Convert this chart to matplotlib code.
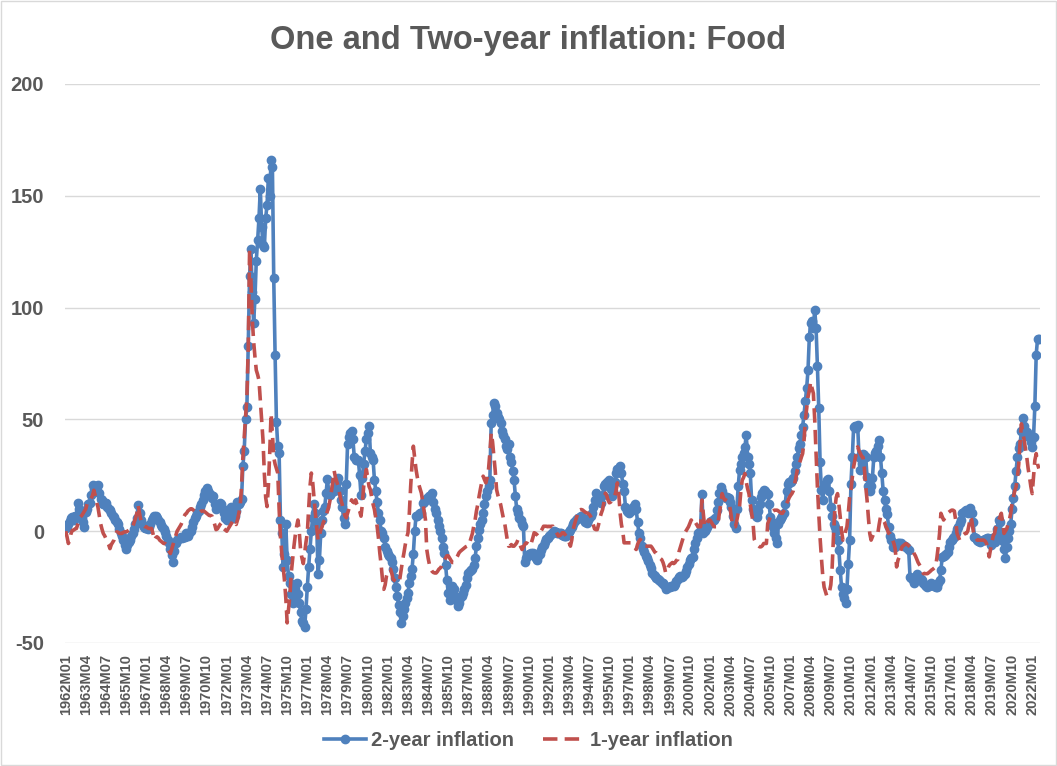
import numpy as np
import pandas as pd
import matplotlib.pyplot as plt
from matplotlib.lines import Line2D
from matplotlib.patches import Rectangle

plt.rcParams['font.family'] = ['Liberation Sans', 'DejaVu Sans']
plt.rcParams['axes.unicode_minus'] = False

# monthly categories 1962M01 .. 2022M06
months = pd.period_range("1962-01", "2022-06", freq="M")
month_labels = [f"{p.year}M{p.month:02d}" for p in months]

# 2-year food inflation (%), one row per year
two_year = [
    1.5, 2.5, 3.4, 4.5, 5.7, 6.5, 5, 7, 7, 12.4, 10, 9.4,
    6, 4, 2, 8.6, 10, 12, 12.4, 16, 20.6, 19, 20, 18,
    20.6, 17, 14.6, 14, 12, 12.4, 12.4, 11, 10, 9.4, 8, 7,
    6.4, 5, 4, 3.4, 1, -1, -2, -4, -6, -7.8, -6, -5,
    -4, -2, -1, 1, 3, 5.7, 11.6, 8, 4.9, 3, 2, 1.2,
    1.2, 1, 2, 3, 4.9, 6, 7, 7, 6, 4.9, 4, 2.7,
    2, 1, -0.3, -2, -4, -5.5, -8, -10.7, -14, -9, -5.5, -4,
    -3.3, -3, -2.5, -3, -2.5, -2.5, -1, -2, -1, 0, 2, 4,
    6, 7, 8, 9, 11, 12, 14, 16, 18, 19.4, 18, 17,
    16, 15, 15.7, 12, 10, 11, 12, 12.7, 12, 10, 8, 6,
    5, 7, 9, 11, 8, 6, 7, 9, 13, 12, 13, 14.6,
    29, 36, 50, 55.6, 83, 114, 126, 107, 93, 104, 121, 130,
    140, 153, 136, 128, 127, 140, 146, 158, 150, 166, 163, 113,
    79, 49, 38, 35, 5, -1, -16, -10, 3, -13, -20, -23,
    -28, -32, -30, -26, -23, -28, -32, -36, -40, -41, -43, -35,
    -25, -16, -8, 0, 6, 12, 8, 3, -19, -13, -1, 5,
    9, 11, 17, 23.5, 17, 16, 17, 18, 18, 20, 22, 24,
    18, 14, 11, 6, 3.4, 21, 39, 42, 44, 45, 41, 33,
    32, 32, 32, 25, 16, 24, 30, 36, 41, 44, 47, 35,
    33, 32, 23, 18, 13, 8, 5, 0, -1, -3, -7, -9,
    -10, -11, -12, -14, -17, -21, -25, -29, -33, -36, -41, -38,
    -35, -32, -30, -27.6, -23, -20, -17, -10, 0, 6.7, 7, 7.5,
    8, 8.2, 12.7, 13, 14, 15, 15, 15.7, 16, 17, 13, 10,
    8, 5, 2.2, 0, -3, -7, -9.7, -15, -22, -27.6, -31, -29,
    -24.6, -26, -29, -31, -33.6, -32, -30, -29, -27.6, -26, -24, -21,
    -18.7, -18, -17.5, -17, -15, -12, -6.7, -3, 0.7, 3, 5, 8.2,
    12, 15.7, 18, 20, 23, 48.5, 52, 57.5, 56, 53, 51, 50,
    48.5, 45, 43, 41, 38, 36.6, 39, 33, 31, 27, 23, 15.7,
    10, 8.2, 6, 5.2, 3, 2.2, -14, -12, -11, -10, -10, -9.7,
    -9.7, -11, -12, -12.7, -11, -10, -8.2, -7, -6, -5, -3.7, -3,
    -2, -1.5, -1, -0.7, 0, -0.5, -1, -0.7, -0.7, -1, -1.5, -2,
    -2.2, -2, -1, -0.5, 0.7, 2, 3, 4, 5.2, 5.5, 6, 6.5,
    6.7, 6, 5, 4, 3.7, 5, 6, 7, 8.2, 11, 14, 17,
    15, 14, 13, 12.7, 16, 20, 21, 22, 22, 23, 19, 15.7,
    18, 22, 26, 28, 27, 29, 26, 21, 18, 11, 9, 8.5,
    8.2, 9, 10, 11, 12, 10, 4, -0.7, -3, -6.7, -8, -9.5,
    -11, -12, -13.5, -15, -16.5, -18.7, -19.5, -20, -21, -21.6, -22, -22.5,
    -23, -23, -24, -26, -25.5, -25, -25, -24.6, -24.6, -24.6, -23.5, -22.5,
    -21.5, -20.4, -20, -20.4, -20, -19, -18, -16, -14.5, -13, -12, -11.5,
    -8, -5.2, -3, -1, -1, 2, 16.8, -1, 0, 1, 2, 3.4,
    4, 4.5, 5, 5, 6, 9.4, 13, 17, 19.8, 18, 16, 15.4,
    15, 15.4, 15, 13, 11, 7, 3, 1.2, 10, 20, 27.3, 30,
    33, 35, 37.7, 43, 33, 30, 25.8, 13.9, 10, 8, 7, 6.4,
    9, 12, 15.4, 17, 18.3, 18, 17, 16.8, 12, 6.4, 4, 2,
    -1, -3, -5.5, 3.4, 5, 6, 7, 8, 12, 18, 21.3, 22,
    22, 22.8, 24, 27, 30, 33, 37, 39, 43, 46.7, 52, 58,
    64, 72, 87, 93, 94, 91, 99, 91, 74, 55, 31, 18.3,
    13.9, 20, 21, 22.8, 23.5, 18, 10.9, 7, 3.4, 2, 0, -4,
    -8.5, -17.4, -25, -28, -30, -32, -26, -14.5, -4, 21.3, 33, 46.7,
    47, 46, 47.4, 33, 27.3, 30, 34.7, 34, 33, 24.3, 20, 18,
    20, 24, 33, 35, 36, 38, 40.7, 33, 25.8, 18, 13.9, 10,
    7.9, 2, -2, -4, -7, -7, -7, -6, -5.5, -5.5, -5.5, -6,
    -6, -6.5, -7, -7.5, -8.5, -20.4, -21, -22, -23.4, -21, -19, -20,
    -21, -21.5, -22, -23, -24, -24.5, -25, -24.5, -24, -23.4, -24, -24.5,
    -25, -25, -23, -22, -17.4, -11.5, -11, -10.5, -10, -9.2, -7, -5,
    -4, -3, -2.5, -1, 1, 2, 3.5, 5, 8, 8.5, 9, 9.4,
    8, 9.4, 10.5, 8, 4, -2.5, -3, -4, -4.5, -5, -4.5, -4,
    -4, -3.5, -3, -3, -4, -6, -3, -3, -5, -2, 1, 5,
    4, -1, -4.5, -8, -12, -7, -3, 0, 3, 10, 15, 20,
    27, 33, 37, 39, 45, 50.4, 47, 44, 44.4, 43, 42, 40,
    37.7, 42, 56, 79, 86, 86,
]

# 1-year food inflation (%), one row per year
one_year = [
    0, -2.5, -5.5, -4, -1, 0.4, 0.5, 1, 1.2, 3, 5, 6.4,
    7, 8, 9, 10, 12.4, 13, 14, 14.6, 16, 18.3, 16, 13,
    10.9, 7, 3.4, 1, -1, -2, -3.3, -5, -6, -7.8, -6, -5,
    -4, -2, -0.3, -0.5, -1, -1, -1, -0.5, -0.3, -0.3, 0, 0.4,
    0.4, 1, 2, 4, 5.7, 8, 11.6, 8, 4.9, 3.5, 2.5, 2,
    2, 1.5, 1.2, 1.2, 1.2, -1, -4, -3, -2.5, -3, -4, -4.5,
    -5, -5.5, -5.5, -6, -7.5, -9, -10, -8, -6, -4, -2, 0,
    1, 2, 3, 4.5, 6.4, 7.5, 8, 9, 9.5, 10, 10, 9.5,
    9, 8.5, 8, 8, 8.5, 9, 9, 9, 8.5, 8, 7.5, 7,
    7, 6.7, 5, 3, 0.7, 1, 2, 3, 3.7, 2.5, 1, 0.5,
    0, 1, 2, 3, 4, 5, 4, 3, 5, 8, 11, 20,
    33, 42, 51, 60, 82, 125.7, 112, 95, 85, 78, 72, 70,
    67.5, 58.6, 50, 40.7, 25.8, 15, 11, 20, 35, 52.6, 43.7, 33,
    30, 28, 26, 10, -2.5, -10, -16, -22, -30, -41, -35, -29,
    -19, -13, -7, -2, 2, 5, 0, -8.5, -12, -14.5, -10, -5,
    -1, 10, 20, 26, 22, 15, 8, 2, -4, -2, 0.5, 2,
    4, 5, 7, 9, 11, 14, 18, 22, 27, 24, 22, 20,
    17, 14, 12, 9, 7, 6, 8, 10, 12, 14, 13, 12.7,
    14, 12, 11, 9, 6.7, 12, 20, 24, 27.6, 24, 20, 18.6,
    15, 12, 9.7, 6, 2.2, -3, -9.7, -15, -21.6, -26, -24, -20,
    -18, -17, -17, -19, -21.6, -22, -22.5, -23, -23, -21, -17, -13,
    -9.7, -6, -3, -0.7, 8, 20, 30, 38, 33, 27.6, 24, 21,
    19, 17, 13, 9, 5.2, -8.2, -12, -15, -17, -18, -18.5, -18.7,
    -18.7, -18, -17, -16.5, -15.7, -14, -13, -12, -11, -11, -12, -13,
    -14, -14, -13, -12, -11, -9.7, -9, -8.5, -8, -7.5, -7, -6.7,
    -6.7, -5, -3, -1, 2.2, 5, 9, 12, 15.7, 19, 22, 24.6,
    23, 21.6, 24, 27.6, 35, 44, 40, 33.6, 27, 18.6, 16, 14,
    12, 9, 6, 3.7, 0, -4, -6.7, -6.7, -6, -6.7, -6.7, -6,
    -5.2, -3.7, -5, -7, -8.2, -7, -6, -5.2, -5.5, -6, -6.7, -5,
    -3, -0.7, -1, -1.5, -2.2, -1, 0, 1, 2.2, 2.2, 2.2, 2,
    2.2, 2, 2.2, 2.2, 1, 0, -1, -2.2, -2, -1.5, -0.7, -0.7,
    -1.5, -2.5, -3.7, -5, -6.7, -4, 0.7, 3, 5, 7, 9.7, 9.5,
    9.7, 9.5, 9, 8.5, 8.2, 8, 7.5, 6.7, 5, 3, 1, 0.7,
    0.7, 3, 6, 8, 9.7, 13, 17, 16, 14, 12.7, 13, 14,
    15, 15.7, 18, 21.6, 17, 8.2, 3, 0, -5.2, -5.2, -5.2, -5.2,
    -5.2, -5.2, -6, -7, -7.5, -8.2, -6, -4.5, -3.7, -4.5, -5.5, -6.7,
    -6.7, -6.7, -6.7, -6.7, -6.7, -7.5, -8.5, -9.5, -9.7, -10.5, -11.5, -12.2,
    -12.7, -14, -16, -18.7, -18, -16, -15, -14.5, -14, -14.5, -14, -13,
    -12.7, -9, -7, -5, -3, -1, 0, 1, 2, 3.5, 5, 4,
    5, 4, 3, 2, 2, 2, 13.9, 8, 2, 3, 4, 5,
    5, 4, 3, 2, 2, 2, 4, 8, 12, 16.8, 15, 14,
    13.9, 13.5, 12.4, 10, 6, 2, 2, 2, 5, 8, 11, 18,
    22.8, 24, 25.8, 22, 19, 16.8, 12, 8, 4, -3.7, -5, -6,
    -6.5, -7, -7, -6.5, -5.5, -5.5, -5.5, 3.4, 5, 6.5, 8, 9,
    9.4, 9.4, 9.4, 9, 8.5, 8, 8, 9, 10, 12.4, 13.5, 15,
    16, 16.8, 18, 21, 24, 27.3, 29, 31, 33, 34.7, 40, 49.6,
    55, 60, 63, 66.8, 64, 61.6, 50, 35, 20, 8, -3, -12,
    -20, -25, -27, -29, -28, -27, -24, -16, -2, 10, 15, 16.8,
    12, 6.4, 0, -4, -3, 0, 2, 8, 15, 18.3, 24, 28.8,
    32, 35, 37.7, 36, 34.7, 33.5, 33, 28, 20, 13.9, 6, -1,
    -4, -2.5, -1, -1, -1, -1, 3, 6.4, 6, 5, 4, 2,
    1, -1, -1, -2, -4, -5.5, -8, -16, -13, -11.5, -9, -7,
    -6.5, -6, -5.5, -6, -6.5, -7, -7.5, -8.5, -10, -11, -12.5, -14,
    -15, -16, -17.5, -19, -19, -19, -19, -18.5, -18, -17.4, -17, -16.5,
    -16, -12, -7, -1, 8, 6.5, 5, 6, 7, 8, 8.5, 9,
    9.4, 9.4, 9, 5, -1, -2.5, -4, -3.5, -2.5, -1.5, -1, -1,
    0, 3, 6.4, 5, 0.4, -2.5, -3, -4, -4, -4, -4, -4,
    -4, -4.5, -5.5, -8, -11.5, -8, -5, -2, -1, 2, 3.4, 5,
    6.4, 8, 4, -1, 0, 1, 3, 5, 8, 12.4, 15, 18,
    19.8, 24, 30, 40, 48, 44, 40.7, 37, 33, 28, 24.3, 20,
    16.8, 24.3, 31.7, 34.7, 30, 28,
]

blue = "#4F81BD"
red = "#C0504D"
grey = "#595959"

fig = plt.figure(figsize=(10.57, 7.66), dpi=100)
fig.patches.append(Rectangle((0.001, 0.001), 0.998, 0.998, transform=fig.transFigure,
                             fill=False, edgecolor="#d9d9d9", lw=1))
ax = fig.add_axes([0.0615, 0.1606, 0.922, 0.7298])

x = np.arange(len(months))
ax.plot(x, two_year, color=blue, lw=2.6, marker="o", ms=6, mec=blue, mfc=blue)
ax.plot(x, one_year, color=red, lw=2.6, dashes=(4, 2))

ax.set_xlim(-0.5, len(x) - 0.5)
ax.set_ylim(-50, 200)
ax.set_yticks(range(-50, 201, 50))
ax.set_xticks(x[::15])
ax.set_xticklabels(month_labels[::15], rotation=90)

for s in ax.spines.values():
    s.set_visible(False)
ax.yaxis.grid(True, color="#d9d9d9", lw=1)
ax.set_axisbelow(True)
ax.tick_params(length=0, colors=grey)
ax.tick_params(axis="y", pad=15, labelsize=14.5)
ax.tick_params(axis="x", pad=8, labelsize=10.5)
for lab in ax.get_xticklabels() + ax.get_yticklabels():
    lab.set_fontweight("bold")

fig.text(0.5, 1 - 40 / 766, "One and Two-year inflation: Food", ha="center", va="center",
         fontsize=23.5, fontweight="bold", color=grey)

handles = [
    Line2D([], [], color=blue, lw=2.6, marker="o", ms=6),
    Line2D([], [], color=red, lw=2.6, dashes=(4, 2)),
]
fig.legend(handles, ["2-year inflation", "1-year inflation"], loc="center",
           bbox_to_anchor=(0.5, 1 - 741 / 766), ncol=2, frameon=False,
           prop={"weight": "bold", "size": 14.5}, labelcolor=grey,
           handlelength=2.1, columnspacing=1.4, handletextpad=0.25)

fig.savefig("out.png", dpi=100)
